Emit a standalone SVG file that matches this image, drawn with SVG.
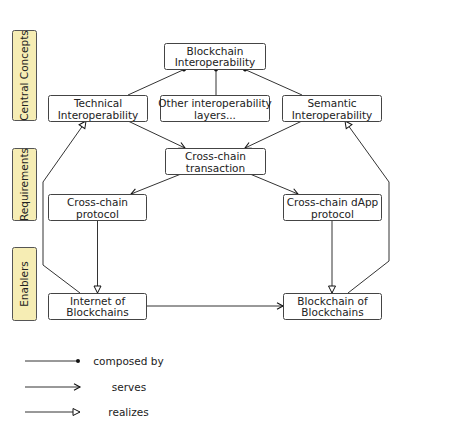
<svg xmlns="http://www.w3.org/2000/svg" width="474" height="435" viewBox="0 0 474 435">
<style>
text{font-family:"DejaVu Sans",sans-serif;font-size:10.5px;fill:#222;text-anchor:middle}
.node rect{fill:#fff;stroke:#444;stroke-width:1}
.lane rect{fill:#f6edb4;stroke:#555;stroke-width:1}
.conn path,.conn line{fill:none;stroke:#333;stroke-width:1}
</style>
<defs>
<marker id="dot" markerUnits="userSpaceOnUse" markerWidth="6" markerHeight="6" refX="3" refY="3" orient="auto"><circle cx="3" cy="3" r="2" fill="#111"/></marker>
<marker id="serve" markerUnits="userSpaceOnUse" markerWidth="10" markerHeight="10" refX="8" refY="5" orient="auto"><path d="M2,1.8 L8,5 L2,8.2" fill="none" stroke="#111" stroke-width="1.1"/></marker>
<marker id="real" markerUnits="userSpaceOnUse" markerWidth="10" markerHeight="10" refX="8.5" refY="5" orient="auto"><path d="M1.5,1.5 L8.5,5 L1.5,8.5 Z" fill="#fff" stroke="#111" stroke-width="1"/></marker>
</defs>
<g id="lane-central" class="lane"><rect x="12.5" y="30.5" width="24" height="90" rx="2"/><text transform="translate(28,75.5) rotate(-90)">Central Concepts</text></g>
<g id="lane-req" class="lane"><rect x="12.5" y="148.5" width="24" height="72" rx="2"/><text transform="translate(28,184.5) rotate(-90)">Requirements</text></g>
<g id="lane-enablers" class="lane"><rect x="12.5" y="247.5" width="24" height="73" rx="2"/><text transform="translate(28,284) rotate(-90)">Enablers</text></g>

<g id="connectors" class="conn">
<line x1="128" y1="95" x2="184" y2="69.5" marker-end="url(#dot)"/>
<line x1="216" y1="95" x2="216" y2="69.5" marker-end="url(#dot)"/>
<line x1="302" y1="95" x2="245" y2="69.5" marker-end="url(#dot)"/>
<line x1="128" y1="121" x2="185" y2="148" marker-end="url(#serve)"/>
<line x1="302" y1="121" x2="245" y2="148" marker-end="url(#serve)"/>
<line x1="181" y1="174" x2="131" y2="194" marker-end="url(#serve)"/>
<line x1="250" y1="174" x2="298" y2="194" marker-end="url(#serve)"/>
<line x1="97.5" y1="220" x2="97.5" y2="293" marker-end="url(#real)"/>
<line x1="332" y1="220" x2="332" y2="293" marker-end="url(#real)"/>
<line x1="147" y1="306" x2="283" y2="306" marker-end="url(#serve)"/>
<path d="M80,293 L43,265 L43,182 L86,121" marker-end="url(#real)"/>
<path d="M348,293 L389,261 L389,182 L345,121" marker-end="url(#real)"/>
<line x1="25" y1="361" x2="78" y2="361" marker-end="url(#dot)"/>
<line x1="25" y1="387" x2="80" y2="387" marker-end="url(#serve)"/>
<line x1="25" y1="412" x2="80" y2="412" marker-end="url(#real)"/>
</g>

<g id="n-bi" class="node"><rect x="164.5" y="43.5" width="101" height="26" rx="2"/><text x="215" y="54.5">Blockchain</text><text x="215" y="66">Interoperability</text></g>
<g id="n-tech" class="node"><rect x="48.5" y="95.5" width="99" height="26" rx="2"/><text x="98" y="107">Technical</text><text x="98" y="118.5">Interoperability</text></g>
<g id="n-other" class="node"><rect x="160.5" y="95.5" width="109" height="26" rx="2"/><text x="215" y="107">Other interoperability</text><text x="215" y="118.5">layers...</text></g>
<g id="n-sem" class="node"><rect x="282.5" y="95.5" width="99" height="26" rx="2"/><text x="332" y="107">Semantic</text><text x="332" y="118.5">Interoperability</text></g>
<g id="n-cct" class="node"><rect x="165.5" y="148.5" width="100" height="26" rx="2"/><text x="215.5" y="160">Cross-chain</text><text x="215.5" y="171.5">transaction</text></g>
<g id="n-ccp" class="node"><rect x="48.5" y="194.5" width="98" height="26" rx="2"/><text x="97.5" y="206">Cross-chain</text><text x="97.5" y="217.5">protocol</text></g>
<g id="n-dapp" class="node"><rect x="283.5" y="194.5" width="98" height="26" rx="2"/><text x="332.5" y="206">Cross-chain dApp</text><text x="332.5" y="217.5">protocol</text></g>
<g id="n-iob" class="node"><rect x="48.5" y="293.5" width="98" height="26" rx="2"/><text x="97.5" y="304.5">Internet of</text><text x="97.5" y="316">Blockchains</text></g>
<g id="n-bob" class="node"><rect x="283.5" y="293.5" width="98" height="26" rx="2"/><text x="332.5" y="304.5">Blockchain of</text><text x="332.5" y="316">Blockchains</text></g>

<g id="legend">
<text x="128.5" y="364.5">composed by</text>
<text x="129" y="390.5">serves</text>
<text x="128.5" y="415.5">realizes</text>
</g>
</svg>
